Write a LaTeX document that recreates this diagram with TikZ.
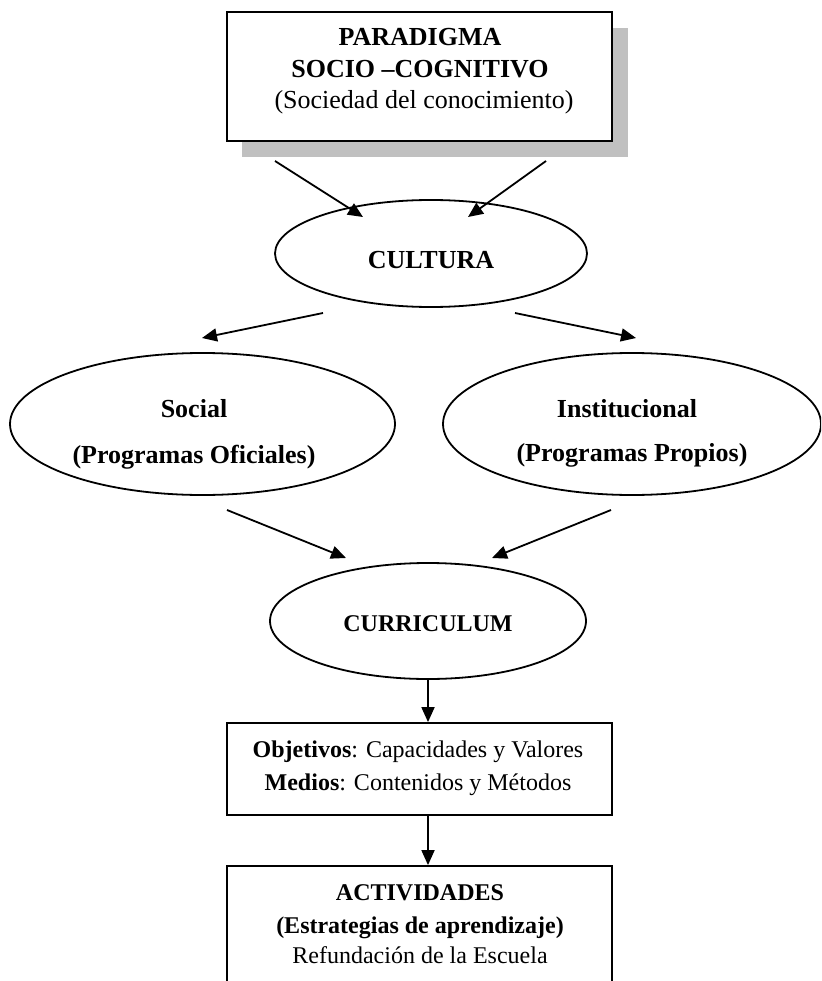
\documentclass[tikz,border=0pt]{standalone}
\usepackage{fontspec}
\setmainfont{Liberation Serif}
\usetikzlibrary{arrows.meta,shapes.geometric}
\definecolor{shadowgray}{RGB}{192,192,192}
\begin{document}
\begin{tikzpicture}[x=1pt,y=-1pt,
  conn/.style={line width=1.8pt, -{Triangle[length=15pt,width=13pt]}},
  oval/.style={ellipse, draw, line width=1.8pt, inner sep=0pt},
  frame/.style={rectangle, draw, line width=1.8pt, fill=white, inner sep=0pt},
  big/.style={font=\fontsize{26}{31}\selectfont, anchor=base, inner sep=0pt},
  small/.style={font=\fontsize{24}{29}\selectfont, anchor=base, inner sep=0pt},
]
\useasboundingbox (0,0) rectangle (821,981);
\clip (0,0) rectangle (821,981);

% top box with drop shadow
\fill[shadowgray] (242,28) rectangle (628,157);
\node[frame, minimum width=385pt, minimum height=129pt] (paradigma) at (419.5,76.5) {};
\node[big] (par1) at (420,46) {\textbf{PARADIGMA}};
\node[big] (par2) at (420,78) {\textbf{SOCIO –COGNITIVO}};
\node[big] (par3) at (424,109) {(Sociedad del conocimiento)};

% ovals
\node[oval, minimum width=312pt, minimum height=107pt] (cultura) at (431,253.5) {};
\node[big] (culturat) at (431,269) {\textbf{CULTURA}};

\node[oval, minimum width=385pt, minimum height=142pt] (social) at (202.5,424) {};
\node[big] (social1) at (194,417) {\textbf{Social}};
\node[big] (social2) at (194,463) {\textbf{(Programas Oficiales)}};

\node[oval, minimum width=378pt, minimum height=142pt] (inst) at (632,424) {};
\node[big] (inst1) at (627,417) {\textbf{Institucional}};
\node[big] (inst2) at (632,461) {\textbf{(Programas Propios)}};

\node[oval, minimum width=316pt, minimum height=116pt] (curr) at (428,621) {};
\node[small] (currt) at (428,631) {\textbf{CURRICULUM}};

% lower boxes
\node[frame, minimum width=385pt, minimum height=92pt] (obj) at (419.5,769) {};
\node[small] (obj1) at (418,757) {\textbf{Objetivos}: Capacidades y Valores};
\node[small] (obj2) at (418,790) {\textbf{Medios}: Contenidos y Métodos};

\node[frame, minimum width=385pt, minimum height=184pt] (act) at (419.5,958) {};
\node[small] (act1) at (420,900) {\textbf{ACTIVIDADES}};
\node[small] (act2) at (420,933) {\textbf{(Estrategias de aprendizaje)}};
\node[small] (act3) at (420,963) {Refundación de la Escuela};

% connector end points
\coordinate (s1) at (275,161);  \coordinate (e1) at (363,217);
\coordinate (s2) at (546,161);  \coordinate (e2) at (468,217);
\coordinate (s3) at (323,313);  \coordinate (e3) at (202,338);
\coordinate (s4) at (515,313);  \coordinate (e4) at (636,338);
\coordinate (s5) at (227,510);  \coordinate (e5) at (346,558);
\coordinate (s6) at (611,510);  \coordinate (e6) at (492,558);

\draw[conn] (s1) -- (e1);
\draw[conn] (s2) -- (e2);
\draw[conn] (s3) -- (e3);
\draw[conn] (s4) -- (e4);
\draw[conn] (s5) -- (e5);
\draw[conn] (s6) -- (e6);
\draw[conn] (curr.south -| 428,0) -- (obj.north -| 428,0);
\draw[conn] (obj.south -| 428,0) -- (act.north -| 428,0);
\end{tikzpicture}
\end{document}
